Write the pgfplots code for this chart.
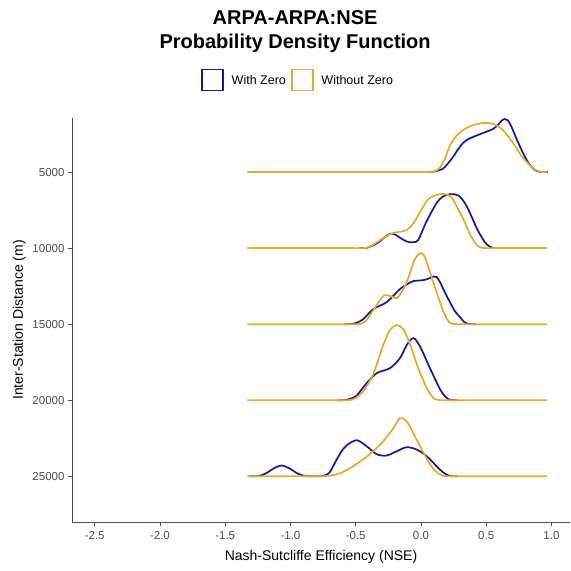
\documentclass[border=0pt]{standalone}
\usepackage{pgfplots}
\pgfplotsset{compat=1.18}
\usepackage{fontspec}
\setmainfont{Liberation Sans}
\definecolor{wzblue}{RGB}{22,22,165}
\definecolor{wozgold}{RGB}{230,170,40}
\definecolor{axgray}{RGB}{77,77,77}
\begin{document}
\begin{tikzpicture}
\useasboundingbox (-72bp,-49bp) rectangle (499bp,522bp);
\begin{axis}[
  at={(0,0)}, anchor=south west,
  scale only axis, width=498bp, height=404bp,
  xmin=-2.674, xmax=1.142,
  ymin=1447, ymax=28007,
  y dir=reverse,
  axis x line*=bottom, axis y line*=left,
  axis line style={draw=axgray, line width=0.9bp, -},
  tick align=outside,
  major tick length=4bp,
  tick style={draw=axgray, line width=0.8bp},
  xtick={-2.5,-2,-1.5,-1,-0.5,0,0.5,1},
  ytick={5000,10000,15000,20000,25000},
  scaled ticks=false,
  /pgf/number format/assume math mode=true,
  xticklabel style={/pgf/number format/fixed, /pgf/number format/fixed zerofill, /pgf/number format/precision=1, text=axgray, font=\fontsize{11.5bp}{13bp}\selectfont, yshift=-2bp},
  yticklabel style={/pgf/number format/1000 sep={}, text=axgray, font=\fontsize{11.5bp}{13bp}\selectfont},
  xlabel={Nash-Sutcliffe Efficiency (NSE)},
  ylabel={Inter-Station Distance (m)},
  label style={font=\fontsize{14bp}{16bp}\selectfont},
  xlabel style={yshift=-4bp},
  title={ARPA-ARPA:NSE\\Probability Density Function},
  title style={at={(0.448,1.200)}, anchor=center, align=center, font=\bfseries\fontsize{20bp}{24bp}\selectfont},
  legend style={at={(0.454,1.094)}, anchor=center, draw=none, fill=none, legend columns=2,
    font=\fontsize{12.5bp}{14bp}\selectfont,
    /tikz/every odd column/.append style={column sep=6bp},
    /tikz/every even column/.append style={column sep=3bp}},
  legend image code/.code={\draw[line width=1.6bp] (0bp,-10bp) rectangle (21bp,11bp);},
  every axis plot/.append style={line width=1.7bp, smooth, tension=0.5},
]
% ---- ridge 5000
\addplot[wzblue] coordinates {(0.03,5000) (0.06,5000) (0.085,4990) (0.12,4930) (0.169,4780) (0.205,4450) (0.245,4013) (0.285,3500) (0.322,3092) (0.36,2850) (0.398,2697) (0.475,2434) (0.552,2171) (0.59,1900) (0.62,1600) (0.644,1513) (0.665,1600) (0.69,1950) (0.736,2894) (0.782,3750) (0.82,4350) (0.851,4700) (0.88,4900) (0.912,4990) (0.94,5000) (0.97,5000)};
\addlegendentry{With Zero}
\addplot[wozgold] coordinates {(-1.33,5000) (-0.03,5000) (0.02,5000) (0.07,5000) (0.11,4930) (0.146,4700) (0.184,4100) (0.222,3250) (0.26,2750) (0.299,2400) (0.35,2100) (0.398,1920) (0.475,1776) (0.552,1830) (0.628,2236) (0.705,3092) (0.782,4079) (0.858,4737) (0.90,4950) (0.935,5000) (0.966,5000)};
\addlegendentry{Without Zero}
% ---- ridge 10000
\addplot[wzblue, forget plot] coordinates {(-0.48,10000) (-0.45,10000) (-0.416,9990) (-0.339,9700) (-0.28,9300) (-0.238,9060) (-0.20,9100) (-0.161,9320) (-0.12,9520) (-0.084,9620) (-0.05,9600) (-0.02,9450) (0.044,8223) (0.120,7039) (0.17,6600) (0.23,6450) (0.29,6560) (0.350,7236) (0.427,8684) (0.47,9350) (0.503,9750) (0.54,9950) (0.567,10000) (0.60,10000)};
\addplot[wozgold, forget plot] coordinates {(-1.33,10000) (-0.57,10000) (-0.52,10000) (-0.47,10000) (-0.414,9980) (-0.36,9750) (-0.314,9474) (-0.26,9200) (-0.215,9013) (-0.16,8920) (-0.110,8816) (-0.07,8500) (-0.033,8026) (0.044,6907) (0.10,6560) (0.16,6440) (0.21,6520) (0.248,6842) (0.324,8092) (0.37,9000) (0.401,9474) (0.43,9820) (0.46,9970) (0.50,10000) (0.55,10000) (0.60,10000) (0.966,10000)};
% ---- ridge 15000
\addplot[wzblue, forget plot] coordinates {(-0.59,15000) (-0.56,15000) (-0.531,14990) (-0.49,14900) (-0.442,14671) (-0.366,14013) (-0.263,13552) (-0.161,12697) (-0.10,12350) (-0.059,12171) (0.018,12105) (0.06,12000) (0.094,11868) (0.12,11900) (0.146,12236) (0.18,12850) (0.222,13552) (0.26,14150) (0.299,14539) (0.33,14850) (0.360,14980) (0.39,15000) (0.42,15000)};
\addplot[wozgold, forget plot] coordinates {(-1.33,15000) (-0.60,15000) (-0.55,15000) (-0.50,15000) (-0.46,14980) (-0.42,14750) (-0.366,14100) (-0.32,13500) (-0.28,13090) (-0.235,13150) (-0.186,13289) (-0.150,12900) (-0.110,12256) (-0.075,11400) (-0.046,10723) (-0.008,10328) (0.02,10450) (0.044,10920) (0.094,12236) (0.146,13552) (0.18,14350) (0.209,14780) (0.235,14960) (0.27,15000) (0.32,15000) (0.37,15000) (0.966,15000)};
% ---- ridge 20000
\addplot[wzblue, forget plot] coordinates {(-0.64,20000) (-0.61,20000) (-0.582,19990) (-0.54,19900) (-0.493,19700) (-0.416,18881) (-0.339,18223) (-0.238,17894) (-0.161,17236) (-0.110,16381) (-0.059,15920) (-0.008,16447) (0.069,17894) (0.146,19276) (0.19,19800) (0.222,19970) (0.25,20000) (0.28,20000)};
\addplot[wozgold, forget plot] coordinates {(-1.33,20000) (-0.68,20000) (-0.63,20000) (-0.58,20000) (-0.54,19980) (-0.50,19850) (-0.442,19408) (-0.366,18289) (-0.289,16381) (-0.238,15394) (-0.186,15065) (-0.136,15328) (-0.084,16315) (-0.021,17894) (0.044,19210) (0.09,19800) (0.120,19960) (0.16,20000) (0.21,20000) (0.26,20000) (0.966,20000)};
% ---- ridge 25000
\addplot[wzblue, forget plot] coordinates {(-1.32,25000) (-1.29,25000) (-1.259,24990) (-1.22,24930) (-1.182,24780) (-1.119,24440) (-1.067,24290) (-1.004,24500) (-0.95,24800) (-0.90,24960) (-0.86,25000) (-0.82,25000) (-0.78,25000) (-0.74,24950) (-0.70,24750) (-0.646,23900) (-0.60,23250) (-0.569,22960) (-0.493,22631) (-0.416,23026) (-0.339,23552) (-0.263,23638) (-0.186,23355) (-0.110,23092) (-0.033,23243) (0.044,23684) (0.120,24342) (0.17,24750) (0.215,24960) (0.25,25000) (0.28,25000)};
\addplot[wozgold, forget plot] coordinates {(-1.33,25000) (-0.88,25000) (-0.83,25000) (-0.78,25000) (-0.72,24980) (-0.66,24900) (-0.621,24803) (-0.544,24474) (-0.442,23881) (-0.366,23355) (-0.289,22697) (-0.212,21842) (-0.161,21184) (-0.110,21381) (-0.059,22171) (0.005,23223) (0.069,24210) (0.11,24650) (0.146,24880) (0.18,24980) (0.22,25000) (0.27,25000) (0.32,25000) (0.966,25000)};
\end{axis}
\end{tikzpicture}
\end{document}
